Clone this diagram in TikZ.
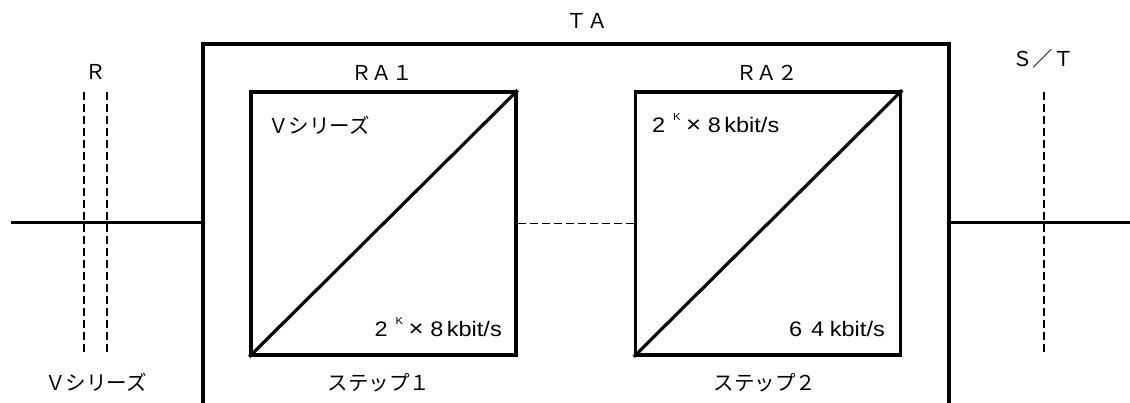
\documentclass[tikz,border=0pt]{standalone}
\usepackage{fontspec}
\usepackage{graphicx}
\setmainfont{Liberation Sans}
\newfontfamily\jp{Noto Sans CJK JP}
\newcommand{\ratetwo}{\scalebox{1.12}[1]{2\hspace{7pt}\raisebox{1.15ex}{\fontsize{10}{11}\selectfont K}\hspace{5pt}{\fontsize{23}{24}\selectfont\texttimes}\hspace{6pt}8\hspace{3pt}kbit/s}}
\newcommand{\ratesix}{\scalebox{1.12}[1]{6\hspace{8pt}4\hspace{5pt}kbit/s}}
\begin{document}
\begin{tikzpicture}[x=1pt,y=-1pt,
  thickline/.style={line width=3pt},
  boxline/.style={line width=3.5pt},
  dashline/.style={line width=1.4pt, dash pattern=on 8pt off 4pt},
  ralbox/.style={draw, line width=3.5pt, minimum width=265pt, minimum height=263pt, inner sep=0pt},
  lbl/.style={inner sep=0pt, anchor=center, font=\fontsize{20.5}{22}\selectfont\jp},
  rate/.style={inner sep=0pt, font=\fontsize{21}{22}\selectfont}
]
\useasboundingbox (0,0) rectangle (1130,403);
% TA open box
\coordinate (tabl) at (203,405);
\coordinate (tatl) at (203,44);
\coordinate (tatr) at (949,44);
\coordinate (tabr) at (949,405);
\draw[boxline, line join=miter] (tabl) -- (tatl) -- (tatr) -- (tabr);
\node[lbl] (ta) at (587,21) {ＴＡ};
% external lines
\coordinate (lend) at (11,223);
\coordinate (lta) at (203,223);
\coordinate (rta) at (949,223);
\coordinate (rend) at (1130,223);
\draw[thickline] (lend) -- (lta);
\draw[thickline] (rta) -- (rend);
% RA boxes
\node[ralbox] (ra1) at (383.5,223.5) {};
\node[ralbox] (ra2) at (768,223.5) {};
\draw[line width=3.2pt] (ra1.south west) -- (ra1.north east);
\draw[line width=3.2pt] (ra2.south west) -- (ra2.north east);
\draw[dashline] (ra1.east) -- (ra2.west);
\node[lbl] (ra1l) at (382,72.5) {ＲＡ１};
\node[lbl] (ra2l) at (767,72.5) {ＲＡ２};
\node[lbl] (st1) at (379,383) {ステップ１};
\node[lbl] (st2) at (765,383) {ステップ２};
\node[lbl, anchor=west] (v1) at (268,125) {Ｖシリーズ};
\node[rate, anchor=base east] (r1) at (502,337) {\ratetwo};
\node[rate, anchor=base west] (r2) at (652,133) {\ratetwo};
\node[rate, anchor=base east] (r3) at (885,337) {\ratesix};
% reference points
\coordinate (r1t) at (84,92); \coordinate (r1b) at (84,355);
\coordinate (r2t) at (107,92); \coordinate (r2b) at (107,355);
\coordinate (stt) at (1044,92); \coordinate (stb) at (1044,355);
\draw[dashline] (r1t) -- (r1b);
\draw[dashline] (r2t) -- (r2b);
\draw[dashline] (stt) -- (stb);
\node[lbl] (rl) at (96,72) {Ｒ};
\node[lbl] (vl) at (96,382) {Ｖシリーズ};
\node[lbl] (stl) at (1043,58.5) {Ｓ／Ｔ};
\end{tikzpicture}
\end{document}
